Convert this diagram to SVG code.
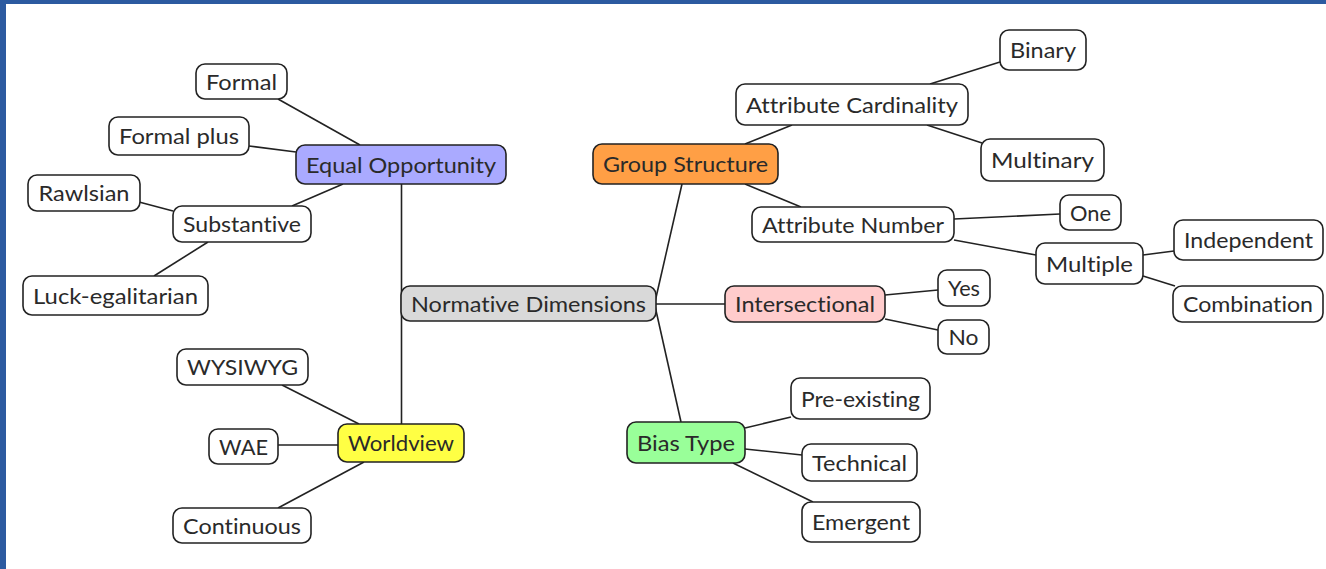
<svg xmlns="http://www.w3.org/2000/svg" width="1326" height="569" viewBox="0 0 1326 569">
<style>
.bg{fill:#ffffff}
.frame{fill:#2c5aa0}
.conn line{stroke:#222;stroke-width:1.6;fill:none}
.node rect{stroke:#222;stroke-width:1.6;fill:#ffffff}
.node text{font-family:Lato,"Open Sans","Liberation Sans",sans-serif;font-size:22px;fill:#2a2a2a;text-anchor:middle;font-variant-ligatures:none;font-feature-settings:"liga" 0}
#nd rect{fill:#d9d9d9}
#eo rect{fill:#aaaaff}
#gs rect{fill:#ff9f45}
#inter rect{fill:#ffcccc}
#wv rect{fill:#ffff44}
#bt rect{fill:#99ff99}
</style>
<rect class="bg" x="0" y="0" width="1326" height="569"/>
<rect class="frame" x="0" y="0" width="1326" height="4"/>
<rect class="frame" x="0" y="0" width="6" height="569"/>
<g id="connectors" class="conn">
<line x1="278" y1="99" x2="360" y2="145"/>
<line x1="249" y1="146" x2="296" y2="152"/>
<line x1="292" y1="206" x2="343" y2="184"/>
<line x1="139" y1="202" x2="173" y2="211"/>
<line x1="208" y1="242" x2="154" y2="276"/>
<line x1="401.5" y1="184" x2="401.5" y2="424"/>
<line x1="282" y1="385" x2="359" y2="424"/>
<line x1="278" y1="445" x2="338" y2="445"/>
<line x1="278" y1="508" x2="364" y2="462"/>
<line x1="655" y1="302" x2="682" y2="184"/>
<line x1="656" y1="304" x2="725" y2="304"/>
<line x1="655" y1="306" x2="681" y2="422"/>
<line x1="745" y1="144" x2="792" y2="125"/>
<line x1="930" y1="84" x2="1000" y2="62"/>
<line x1="927" y1="125" x2="982" y2="143"/>
<line x1="745" y1="184" x2="801" y2="207"/>
<line x1="954" y1="219" x2="1060" y2="214"/>
<line x1="954" y1="240" x2="1036" y2="255"/>
<line x1="1143" y1="255" x2="1174" y2="251"/>
<line x1="1143" y1="276" x2="1175" y2="286"/>
<line x1="885" y1="295" x2="938" y2="290"/>
<line x1="885" y1="319" x2="938" y2="330"/>
<line x1="745" y1="428" x2="791" y2="417"/>
<line x1="745" y1="449" x2="802" y2="455"/>
<line x1="733" y1="463" x2="813" y2="502"/>
</g>
<g id="nd" class="node"><rect x="401" y="286" width="255" height="35" rx="9"/><text x="528.5" y="311.5" textLength="235" lengthAdjust="spacingAndGlyphs">Normative Dimensions</text></g>
<g id="eo" class="node"><rect x="296" y="145" width="210" height="39" rx="9"/><text x="401" y="172.5" textLength="190" lengthAdjust="spacingAndGlyphs">Equal Opportunity</text></g>
<g id="formal" class="node"><rect x="196" y="64" width="91" height="35" rx="9"/><text x="241.5" y="89.5" textLength="71" lengthAdjust="spacingAndGlyphs">Formal</text></g>
<g id="formalplus" class="node"><rect x="109" y="117" width="140" height="38" rx="9"/><text x="179" y="144" textLength="120" lengthAdjust="spacingAndGlyphs">Formal plus</text></g>
<g id="rawlsian" class="node"><rect x="28" y="175" width="112" height="36" rx="9"/><text x="84" y="201" textLength="91" lengthAdjust="spacingAndGlyphs">Rawlsian</text></g>
<g id="substantive" class="node"><rect x="173" y="206" width="138" height="36" rx="9"/><text x="242" y="232" textLength="118" lengthAdjust="spacingAndGlyphs">Substantive</text></g>
<g id="luck" class="node"><rect x="23" y="276" width="185" height="39" rx="9"/><text x="115.5" y="303.5" textLength="165" lengthAdjust="spacingAndGlyphs">Luck-egalitarian</text></g>
<g id="gs" class="node"><rect x="593" y="144" width="185" height="40" rx="9"/><text x="685.5" y="172" textLength="165" lengthAdjust="spacingAndGlyphs">Group Structure</text></g>
<g id="ac" class="node"><rect x="736" y="84" width="232" height="41" rx="9"/><text x="852" y="112.5" textLength="212" lengthAdjust="spacingAndGlyphs">Attribute Cardinality</text></g>
<g id="binary" class="node"><rect x="1000" y="30" width="86" height="40" rx="9"/><text x="1043" y="58" textLength="66" lengthAdjust="spacingAndGlyphs">Binary</text></g>
<g id="multinary" class="node"><rect x="981" y="139" width="123" height="42" rx="9"/><text x="1042.5" y="168" textLength="103" lengthAdjust="spacingAndGlyphs">Multinary</text></g>
<g id="an" class="node"><rect x="752" y="207" width="202" height="35" rx="9"/><text x="853" y="232.5" textLength="182" lengthAdjust="spacingAndGlyphs">Attribute Number</text></g>
<g id="one" class="node"><rect x="1060" y="195" width="61" height="35" rx="9"/><text x="1090.5" y="220.5" textLength="41" lengthAdjust="spacingAndGlyphs">One</text></g>
<g id="multiple" class="node"><rect x="1036" y="243" width="107" height="41" rx="9"/><text x="1089.5" y="271.5" textLength="87" lengthAdjust="spacingAndGlyphs">Multiple</text></g>
<g id="independent" class="node"><rect x="1174" y="220" width="149" height="40" rx="9"/><text x="1248.5" y="248" textLength="129" lengthAdjust="spacingAndGlyphs">Independent</text></g>
<g id="combination" class="node"><rect x="1173" y="286" width="150" height="36" rx="9"/><text x="1248" y="312" textLength="130" lengthAdjust="spacingAndGlyphs">Combination</text></g>
<g id="inter" class="node"><rect x="725" y="286" width="160" height="36" rx="9"/><text x="805" y="312" textLength="140" lengthAdjust="spacingAndGlyphs">Intersectional</text></g>
<g id="yes" class="node"><rect x="938" y="270" width="52" height="36" rx="9"/><text x="964" y="296" textLength="32" lengthAdjust="spacingAndGlyphs">Yes</text></g>
<g id="no" class="node"><rect x="938" y="320" width="51" height="34" rx="9"/><text x="963.5" y="345" textLength="30" lengthAdjust="spacingAndGlyphs">No</text></g>
<g id="wv" class="node"><rect x="338" y="424" width="126" height="38" rx="9"/><text x="401" y="451" textLength="106" lengthAdjust="spacingAndGlyphs">Worldview</text></g>
<g id="wysiwyg" class="node"><rect x="177" y="349" width="131" height="36" rx="9"/><text x="242.5" y="375" textLength="111" lengthAdjust="spacingAndGlyphs">WYSIWYG</text></g>
<g id="wae" class="node"><rect x="209" y="429" width="69" height="35" rx="9"/><text x="243.5" y="454.5" textLength="49" lengthAdjust="spacingAndGlyphs">WAE</text></g>
<g id="continuous" class="node"><rect x="173" y="508" width="138" height="35" rx="9"/><text x="242" y="533.5" textLength="118" lengthAdjust="spacingAndGlyphs">Continuous</text></g>
<g id="bt" class="node"><rect x="627" y="422" width="118" height="41" rx="9"/><text x="686" y="450.5" textLength="98" lengthAdjust="spacingAndGlyphs">Bias Type</text></g>
<g id="pre" class="node"><rect x="791" y="378" width="139" height="41" rx="9"/><text x="860.5" y="406.5" textLength="119" lengthAdjust="spacingAndGlyphs">Pre-existing</text></g>
<g id="tech" class="node"><rect x="802" y="444" width="115" height="37" rx="9"/><text x="859.5" y="470.5" textLength="95" lengthAdjust="spacingAndGlyphs">Technical</text></g>
<g id="emergent" class="node"><rect x="802" y="502" width="118" height="40" rx="9"/><text x="861" y="530" textLength="98" lengthAdjust="spacingAndGlyphs">Emergent</text></g>
</svg>
